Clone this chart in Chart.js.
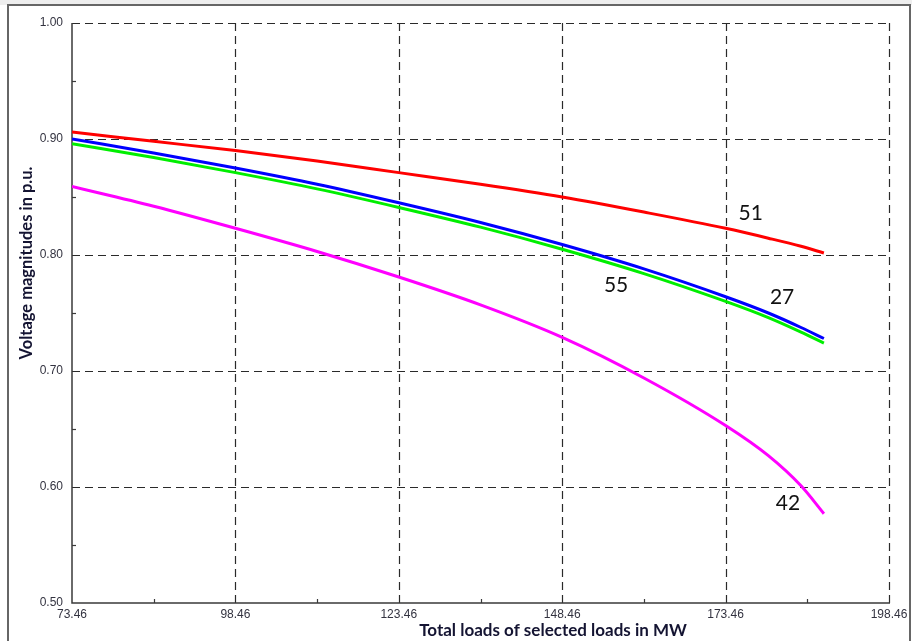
<!DOCTYPE html>
<html>
<head>
<meta charset="utf-8">
<script src="https://cdn.jsdelivr.net/npm/chart.js@4"></script>
<style>
  html, body { margin: 0; padding: 0; background: #ffffff; }
  #wrap { width: 912px; height: 641px; position: relative; }
</style>
</head>
<body>
<div id="wrap"><canvas id="c" width="912" height="641"></canvas></div>
<script>
// Total load of the selected loads (MW)
const loadsMW = [73.46, 85.96, 98.46, 110.96, 123.46, 135.96, 148.46, 160.96, 173.46, 180.0, 185.0, 188.5];

// Bus voltage magnitudes (p.u.) along the loading path
const bus51 = [0.906, 0.898, 0.890, 0.881, 0.871, 0.861, 0.850, 0.837, 0.823, 0.8145, 0.8075, 0.8017];
const bus27 = [0.900, 0.888, 0.875, 0.861, 0.845, 0.828, 0.809, 0.788, 0.764, 0.750, 0.7375, 0.728];
const bus55 = [0.896, 0.884, 0.871, 0.857, 0.841, 0.824, 0.805, 0.784, 0.760, 0.746, 0.7335, 0.724];
const bus42 = [0.859, 0.842, 0.823, 0.803, 0.781, 0.757, 0.729, 0.694, 0.653, 0.627, 0.601, 0.577];

// Axis ticks
const xTicks = [73.46, 85.96, 98.46, 110.96, 123.46, 135.96, 148.46, 160.96, 173.46, 185.96, 198.46];
const xTickLabels = ['73.46', '', '98.46', '', '123.46', '', '148.46', '', '173.46', '', '198.46'];
const yTicks = [0.50, 0.55, 0.60, 0.65, 0.70, 0.75, 0.80, 0.85, 0.90, 0.95, 1.00];
const yTickLabels = ['0.50', '', '0.60', '', '0.70', '', '0.80', '', '0.90', '', '1.00'];

// Bus number tags placed next to their curves (in data coordinates)
const tagText = ['51', '27', '55', '42'];
const tagX = [177.3, 182.1, 156.7, 183.0];
const tagY = [0.836, 0.764, 0.774, 0.586];

const xTitle = 'Total loads of selected loads in MW';
const yTitle = 'Voltage magnitudes in p.u.';

function toPoints(ys) { return loadsMW.map((x, i) => ({ x: x, y: ys[i] })); }

const framePlugin = {
  id: 'frame',
  beforeDraw(chart) {
    const ctx = chart.ctx;
    ctx.save();
    ctx.fillStyle = '#ffffff';
    ctx.fillRect(0, 0, chart.width, chart.height);
    ctx.fillStyle = '#eeeeee';
    ctx.fillRect(0, 0, chart.width, 5);
    ctx.strokeStyle = '#666666';
    ctx.lineWidth = 2;
    ctx.strokeRect(8, 5, 902, 650);
    ctx.restore();
  }
};

const gridPlugin = {
  id: 'dashGrid',
  beforeDatasetsDraw(chart) {
    const ctx = chart.ctx;
    const a = chart.chartArea;
    const xs = chart.scales.x, ys = chart.scales.y;
    ctx.save();
    ctx.strokeStyle = '#2a2a2a';
    ctx.lineWidth = 1.2;
    ctx.setLineDash([8, 5]);
    xTicks.forEach((v, i) => {
      if (i === 0 || xTickLabels[i] === '') return;
      const px = Math.round(xs.getPixelForValue(v)) + 0.5;
      ctx.beginPath(); ctx.moveTo(px, a.bottom); ctx.lineTo(px, a.top); ctx.stroke();
    });
    yTicks.forEach((v, i) => {
      if (i === 0 || yTickLabels[i] === '') return;
      const py = Math.round(ys.getPixelForValue(v)) + 0.5;
      ctx.beginPath(); ctx.moveTo(a.left, py); ctx.lineTo(a.right, py); ctx.stroke();
    });
    ctx.setLineDash([]);
    // solid axis lines
    ctx.strokeStyle = '#3a3a3a';
    ctx.lineWidth = 1.5;
    ctx.beginPath();
    ctx.moveTo(a.left, a.top); ctx.lineTo(a.left, a.bottom); ctx.lineTo(a.right + 1, a.bottom);
    ctx.stroke();
    // minor ticks pointing into the plot
    ctx.lineWidth = 1.2;
    xTicks.forEach((v, i) => {
      if (xTickLabels[i] !== '') return;
      const px = Math.round(xs.getPixelForValue(v)) + 0.5;
      ctx.beginPath(); ctx.moveTo(px, a.bottom); ctx.lineTo(px, a.bottom - 4); ctx.stroke();
    });
    yTicks.forEach((v, i) => {
      if (yTickLabels[i] !== '') return;
      const py = Math.round(ys.getPixelForValue(v)) + 0.5;
      ctx.beginPath(); ctx.moveTo(a.left, py); ctx.lineTo(a.left + 4, py); ctx.stroke();
    });
    ctx.restore();
  },
  afterDatasetsDraw(chart) {
    const ctx = chart.ctx;
    const xs = chart.scales.x, ys = chart.scales.y;
    ctx.save();
    ctx.fillStyle = '#111111';
    ctx.font = '21px Lato, "Open Sans", sans-serif';
    ctx.textAlign = 'center';
    ctx.textBaseline = 'middle';
    tagText.forEach((t, i) => {
      ctx.fillText(t, xs.getPixelForValue(tagX[i]), ys.getPixelForValue(tagY[i]));
    });
    // axis titles
    ctx.fillStyle = '#141432';
    ctx.font = 'bold 17px Lato, "Open Sans", sans-serif';
    ctx.fillText(xTitle, 553, 631);
    ctx.translate(27, 263);
    ctx.rotate(-Math.PI / 2);
    ctx.font = 'bold 16.5px Lato, "Open Sans", sans-serif';
    ctx.fillText(yTitle, 0, 0);
    ctx.restore();
  }
};

new Chart(document.getElementById('c'), {
  type: 'scatter',
  data: {
    datasets: [
      { label: '42', data: toPoints(bus42), borderColor: '#ff00ff' },
      { label: '55', data: toPoints(bus55), borderColor: '#00ee00' },
      { label: '27', data: toPoints(bus27), borderColor: '#0000ff' },
      { label: '51', data: toPoints(bus51), borderColor: '#ff0000' }
    ].map(d => Object.assign(d, {
      showLine: true, pointRadius: 0, borderWidth: 3, fill: false,
      cubicInterpolationMode: 'monotone'
    }))
  },
  options: {
    responsive: false,
    animation: false,
    devicePixelRatio: 1,
    layout: { padding: { top: 23, right: 23, left: 0, bottom: 0 } },
    plugins: { legend: { display: false }, tooltip: { enabled: false } },
    scales: {
      x: {
        type: 'linear', min: 73.46, max: 198.46,
        grid: { display: false, drawTicks: false },
        border: { display: false },
        afterBuildTicks(s) { s.ticks = xTicks.map(v => ({ value: v })); },
        afterFit(s) { s.height = 38; },
        ticks: {
          autoSkip: false, maxRotation: 0, padding: 4,
          color: '#333340',
          font: { family: '"Liberation Sans", Arial, sans-serif', size: 12 },
          callback: (v, i) => xTickLabels[i]
        }
      },
      y: {
        type: 'linear', min: 0.5, max: 1.0,
        grid: { display: false, drawTicks: false },
        border: { display: false },
        afterBuildTicks(s) { s.ticks = yTicks.map(v => ({ value: v })); },
        afterFit(s) { s.width = 72; },
        ticks: {
          autoSkip: false, padding: 9,
          color: '#333340',
          font: { family: '"Liberation Sans", Arial, sans-serif', size: 12 },
          callback: (v, i) => yTickLabels[i]
        }
      }
    }
  },
  plugins: [framePlugin, gridPlugin]
});
</script>
</body>
</html>
